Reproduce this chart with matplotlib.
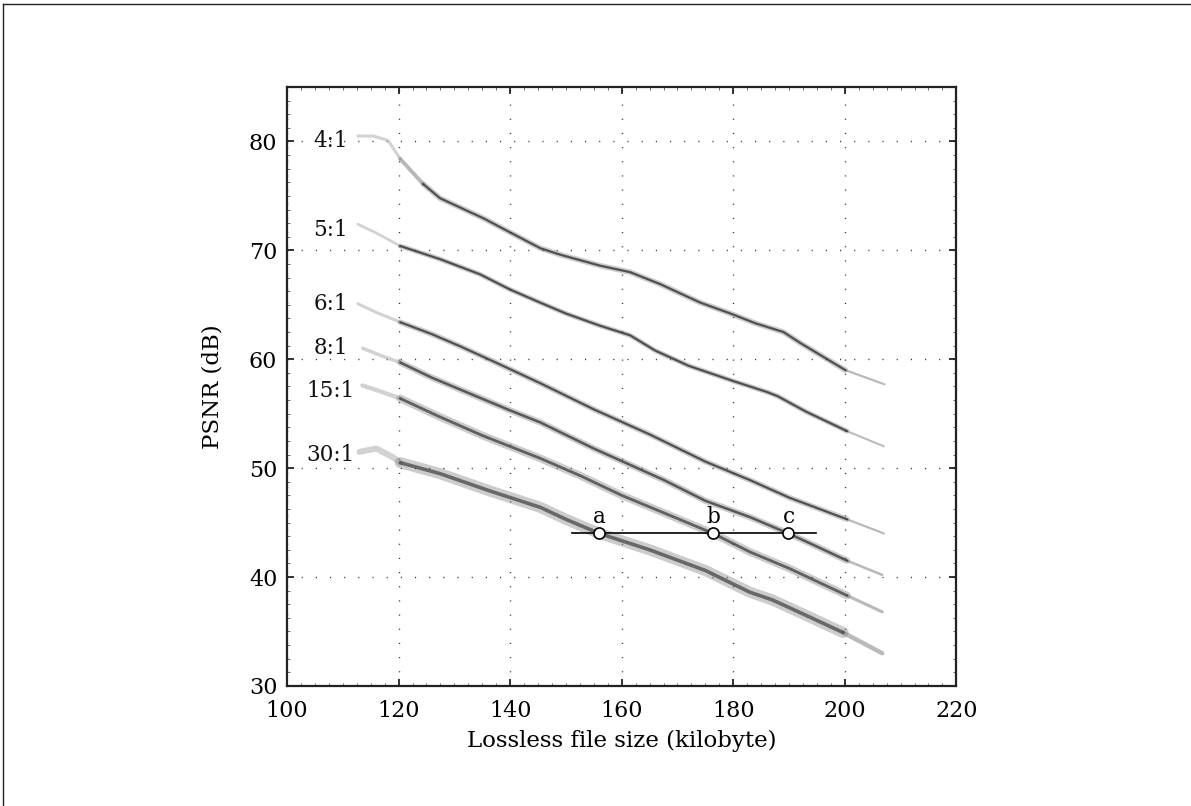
import numpy as np
import matplotlib.pyplot as plt
from matplotlib.lines import Line2D
from matplotlib.ticker import MultipleLocator

plt.rcParams['font.family'] = ['DejaVu Serif']

# compression ratio curves (file size in kilobyte, PSNR in dB)
x_4 = [112.7, 115.5, 118.1, 120.3, 124.4, 127.4, 131.6, 135.2, 138.7, 145.4, 149.0,
       156.1, 161.5, 166.9, 174.1, 179.5, 184.0, 189.0, 192.0, 200.1, 207.1]
y_4 = [80.5, 80.5, 80.1, 78.4, 76.1, 74.8, 73.8, 72.95, 72.0, 70.2, 69.6,
       68.6, 68.0, 66.9, 65.2, 64.2, 63.3, 62.5, 61.5, 59.0, 57.7]

x_5 = [112.7, 116.0, 120.3, 127.4, 134.6, 140.0, 145.4, 150.0, 156.0, 161.5, 166.0,
       172.0, 180.0, 186.0, 188.0, 193.0, 200.4, 207.0]
y_5 = [72.4, 71.6, 70.4, 69.2, 67.8, 66.4, 65.2, 64.2, 63.1, 62.2, 60.8,
       59.4, 58.0, 57.0, 56.6, 55.2, 53.4, 52.0]

x_6 = [112.7, 116.0, 120.3, 126.0, 131.0, 137.0, 145.4, 155.0, 165.0, 175.0, 183.0,
       190.0, 200.4, 207.0]
y_6 = [65.1, 64.3, 63.4, 62.3, 61.2, 59.8, 57.8, 55.4, 53.1, 50.6, 48.9,
       47.3, 45.3, 44.0]

x_8 = [113.6, 117.0, 120.3, 126.0, 133.0, 140.0, 145.4, 155.0, 167.6, 175.0, 183.0,
       189.9, 195.0, 200.4, 206.7]
y_8 = [61.0, 60.3, 59.7, 58.3, 56.8, 55.3, 54.2, 51.8, 48.9, 47.0, 45.5,
       44.0, 42.8, 41.5, 40.2]

x_15 = [113.5, 117.0, 120.3, 127.0, 135.0, 145.4, 152.6, 160.0, 168.0, 176.4, 183.0,
        190.0, 200.4, 206.7]
y_15 = [57.6, 57.0, 56.4, 54.8, 53.0, 50.9, 49.3, 47.5, 45.8, 44.0, 42.3,
        40.8, 38.3, 36.8]

x_30 = [113.0, 116.0, 119.0, 120.3, 127.4, 136.4, 141.8, 145.4, 150.0, 156.0, 165.0,
        175.0, 183.0, 187.0, 190.0, 199.7, 206.7]
y_30 = [51.5, 51.8, 51.0, 50.5, 49.5, 47.9, 47.0, 46.4, 45.3, 44.0, 42.5,
        40.6, 38.6, 37.9, 37.2, 34.9, 33.0]

ratio_labels = ['4:1', '5:1', '6:1', '8:1', '15:1', '30:1']
label_x = [110.9, 110.9, 110.9, 110.9, 112.2, 112.2]
label_y = [80.0, 71.9, 65.1, 61.0, 57.1, 51.2]

# iso-PSNR line with marked points
iso_psnr = 44.0
iso_x = [151.1, 194.9]
point_x = [156.0, 176.4, 189.9]
point_names = ['a', 'b', 'c']

curves = [(x_4, y_4), (x_5, y_5), (x_6, y_6), (x_8, y_8), (x_15, y_15), (x_30, y_30)]
halo_w = [4.0, 3.6, 4.0, 4.6, 5.6, 8.0]
core_w = [1.6, 1.6, 1.6, 1.8, 2.0, 2.6]
core_a = [0.75, 0.75, 0.75, 0.7, 0.65, 0.6]
# where the dark part of each band starts
dark_from = [124.4, 120.3, 120.3, 120.3, 120.3, 120.3]

fig = plt.figure(figsize=(11.91, 8.06), dpi=100)
ax = fig.add_axes([0.241, 0.149, 0.562, 0.743])

for (xs, ys), hw, cw, ca, x0 in zip(curves, halo_w, core_w, core_a, dark_from):
    xs = np.array(xs)
    ys = np.array(ys)
    head = xs <= 120.3
    mid = (xs >= 120.3) & (xs <= x0)
    body = (xs >= x0) & (xs <= 200.5)
    tail = xs >= 199.5
    ax.plot(xs[head], ys[head], color='0.65', lw=hw * 0.55, alpha=0.5,
            solid_capstyle='round', zorder=2)
    if mid.sum() > 1:
        ax.plot(xs[mid], ys[mid], color='0.45', lw=hw * 0.7, alpha=0.5,
                solid_capstyle='round', zorder=2)
    ax.plot(xs[tail], ys[tail], color='0.55', lw=hw * 0.4, alpha=0.6,
            solid_capstyle='round', zorder=2)
    ax.plot(xs[body], ys[body], color='0.5', lw=hw, alpha=0.4,
            solid_capstyle='round', zorder=2)
    ax.plot(xs[body], ys[body], color='0.15', lw=cw, alpha=ca,
            solid_capstyle='round', zorder=3)

for lab, lx, ly in zip(ratio_labels, label_x, label_y):
    ax.text(lx, ly, lab, ha='right', va='center', fontsize=15.5, color='#111111')

ax.plot(iso_x, [iso_psnr, iso_psnr], color='black', lw=1.2, zorder=4)
ax.plot(point_x, [iso_psnr] * len(point_x), 'o', ms=8, mfc='white', mec='black',
        mew=1.2, zorder=5)
for px, name in zip(point_x, point_names):
    ax.text(px, iso_psnr + 0.5, name, ha='center', va='bottom', fontsize=15.5)

ax.set_xlim(100, 220)
ax.set_ylim(30, 85)
ax.set_xticks(np.arange(100, 221, 20))
ax.set_yticks(np.arange(30, 81, 10))
ax.xaxis.set_minor_locator(MultipleLocator(2.5))
ax.yaxis.set_minor_locator(MultipleLocator(1.25))
ax.tick_params(which='major', direction='in', length=5, width=1.3, top=True,
               right=True, labelsize=16, color='#222222')
ax.tick_params(axis='x', which='major', pad=10)
ax.tick_params(axis='y', which='major', pad=7)
ax.tick_params(which='minor', direction='in', length=2, width=0.6, top=True,
               right=True, color='#555555')
ax.grid(True, which='major', linestyle=(0, (0.8, 9.4)), linewidth=1.0, color='0.2')
for sp in ax.spines.values():
    sp.set_linewidth(1.6)
    sp.set_color('#222222')

ax.set_xlabel('Lossless file size (kilobyte)', fontsize=16.5, labelpad=6)
ax.set_ylabel('PSNR (dB)', fontsize=16.5, labelpad=18)

# frame lines at the top and left of the picture
fig.add_artist(Line2D([0.0025, 1.0], [0.995, 0.995], color='#222222', lw=1.0))
fig.add_artist(Line2D([0.0025, 0.0025], [0.0, 0.995], color='#222222', lw=1.0))

fig.savefig('out.png', dpi=100)
